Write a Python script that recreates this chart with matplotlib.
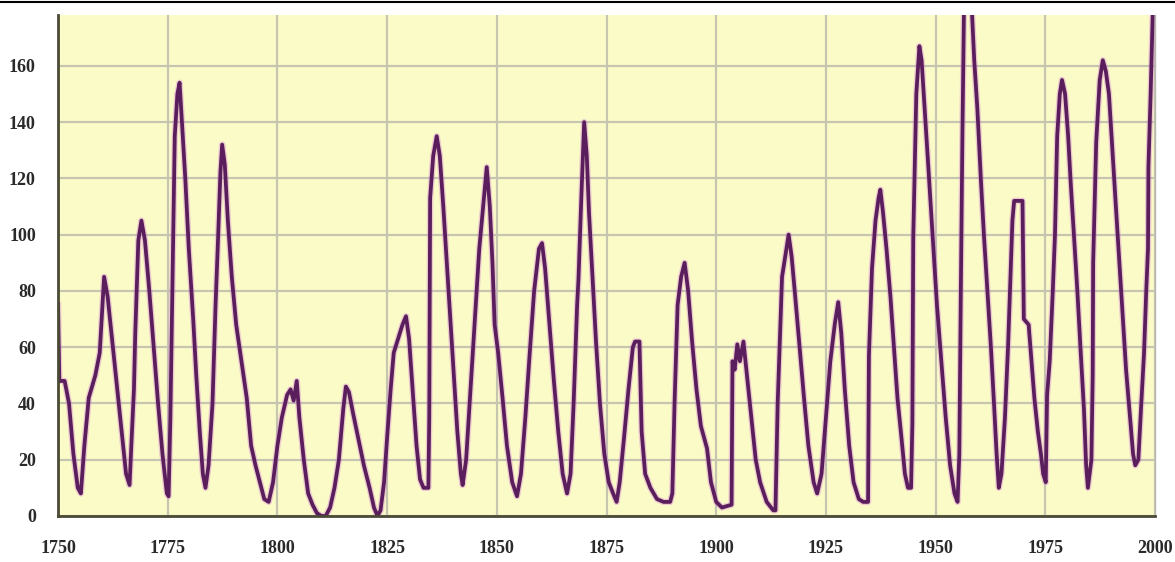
import matplotlib.pyplot as plt

# sunspot number (year, value)
years = [1750.0, 1750.3, 1751.5, 1752.5, 1753.5, 1754.5, 1755.2, 1756.0, 1757.0, 1758.5,
         1759.5, 1760.5, 1761.3, 1762.5, 1763.5, 1764.5, 1765.5, 1766.3, 1766.7, 1767.3,
         1767.6, 1768.3, 1769.0, 1769.8, 1770.8, 1771.8, 1772.8, 1773.8, 1774.8, 1775.2,
         1775.6, 1776.6, 1777.2, 1777.7, 1778.3, 1779.0, 1779.8, 1780.8, 1781.5, 1782.3,
         1783.0, 1783.6, 1784.3, 1785.2, 1785.9, 1786.5, 1787.0, 1787.4, 1788.0, 1788.7,
         1789.6, 1790.6, 1791.8, 1793.0, 1794.0, 1795.0, 1796.0, 1797.0, 1798.0, 1799.0,
         1800.0, 1801.0, 1802.2, 1803.0, 1803.7, 1804.4, 1805.0, 1806.0, 1807.0, 1808.0,
         1809.0, 1810.0, 1811.0, 1812.0, 1813.0, 1814.0, 1815.0, 1815.6, 1816.3, 1817.3,
         1818.5, 1819.7, 1821.0, 1822.0, 1822.8, 1823.5, 1824.3, 1825.0, 1825.8, 1826.5,
         1827.5, 1828.5, 1829.3, 1830.0, 1830.8, 1831.7, 1832.5, 1833.3, 1834.4, 1834.6,
         1834.8, 1835.5, 1836.3, 1837.0, 1837.8, 1838.6, 1839.4, 1840.2, 1841.0, 1841.8,
         1842.2, 1843.0, 1844.0, 1845.0, 1846.0, 1847.0, 1847.7, 1848.4, 1849.0, 1849.5,
         1850.3, 1851.3, 1852.3, 1853.5, 1854.6, 1855.5, 1856.5, 1857.5, 1858.5, 1859.6,
         1860.3, 1861.0, 1862.0, 1863.0, 1864.0, 1865.0, 1866.0, 1866.8, 1867.5, 1868.3,
         1868.6, 1869.3, 1869.9, 1870.5, 1871.0, 1871.8, 1872.6, 1873.5, 1874.5, 1875.5,
         1876.5, 1877.3, 1878.0, 1879.0, 1880.0, 1881.0, 1881.5, 1882.5, 1883.0, 1883.8,
         1885.0, 1886.5, 1888.0, 1889.5, 1890.0, 1890.5, 1891.2, 1892.0, 1892.8, 1893.6,
         1894.5, 1895.5, 1896.5, 1897.2, 1897.9, 1898.8, 1900.0, 1901.3, 1903.5, 1903.7,
         1904.2, 1904.8, 1905.4, 1906.2, 1907.0, 1908.0, 1909.0, 1910.0, 1911.5, 1913.0,
         1913.5, 1914.0, 1915.0, 1916.0, 1916.5, 1917.2, 1918.0, 1919.0, 1920.0, 1921.0,
         1922.2, 1923.0, 1924.0, 1925.0, 1926.0, 1927.0, 1927.8, 1928.5, 1929.3, 1930.3,
         1931.3, 1932.5, 1933.5, 1934.6, 1934.8, 1935.5, 1936.3, 1937.0, 1937.4, 1938.0,
         1938.8, 1939.7, 1940.5, 1941.3, 1942.2, 1943.0, 1943.7, 1944.4, 1944.7, 1944.9,
         1945.6, 1946.3, 1946.8, 1947.5, 1948.3, 1949.3, 1950.3, 1951.3, 1952.3, 1953.3,
         1954.3, 1955.0, 1955.4, 1955.7, 1956.1, 1956.5, 1957.3, 1958.1, 1958.8, 1959.5,
         1960.3, 1961.0, 1961.8, 1962.6, 1963.3, 1963.9, 1964.4, 1965.0, 1965.8, 1966.5,
         1967.0, 1967.5, 1967.9, 1969.8, 1970.1, 1971.2, 1971.7, 1972.5, 1973.3, 1974.0,
         1974.5, 1975.1, 1975.4, 1976.0, 1976.7, 1977.2, 1977.7, 1978.3, 1978.8, 1979.5,
         1980.2, 1980.8, 1981.5, 1982.3, 1983.0, 1983.8, 1984.3, 1984.7, 1985.5, 1985.8,
         1985.9, 1986.6, 1987.4, 1988.1, 1988.8, 1989.5, 1990.2, 1991.0, 1991.8, 1992.6,
         1993.4, 1994.3, 1995.0, 1995.5, 1996.2, 1996.8, 1997.5, 1998.0, 1998.4, 1998.5,
         1999.0, 1999.5]
sunspots = [75, 48, 48, 40, 22, 10, 8, 25, 42, 50,
            58, 85, 78, 60, 45, 30, 15, 11, 25, 45,
            65, 98, 105, 98, 80, 60, 40, 22, 8, 7,
            35, 135, 150, 154, 138, 120, 95, 70, 50, 30,
            15, 10, 18, 40, 75, 100, 122, 132, 125, 105,
            85, 68, 55, 42, 25, 18, 12, 6, 5, 12,
            25, 35, 43, 45, 41, 48, 35, 20, 8, 4,
            1, 0, 0, 3, 10, 20, 38, 46, 44, 36,
            27, 18, 10, 3, 0, 2, 12, 28, 45, 58,
            63, 68, 71, 63, 45, 25, 13, 10, 10, 35,
            113, 128, 135, 128, 110, 90, 70, 50, 30, 15,
            11, 20, 45, 70, 95, 112, 124, 110, 90, 68,
            58, 42, 25, 12, 7, 15, 35, 58, 80, 95,
            97, 88, 68, 48, 30, 15, 8, 15, 40, 75,
            84, 115, 140, 128, 108, 85, 62, 40, 22, 12,
            8, 5, 12, 28, 45, 60, 62, 62, 30, 15,
            10, 6, 5, 5, 8, 40, 75, 85, 90, 80,
            62, 45, 32, 28, 24, 12, 5, 3, 4, 55,
            52, 61, 55, 62, 50, 35, 20, 12, 5, 2,
            2, 40, 85, 95, 100, 92, 78, 60, 42, 25,
            12, 8, 15, 35, 55, 68, 76, 65, 45, 25,
            12, 6, 5, 5, 57, 88, 105, 113, 116, 108,
            95, 78, 60, 42, 28, 15, 10, 10, 33, 99,
            150, 167, 162, 145, 125, 100, 75, 55, 35, 18,
            8, 5, 22, 73, 135, 185, 195, 185, 162, 145,
            120, 100, 80, 60, 40, 22, 10, 15, 35, 60,
            82, 105, 112, 112, 70, 68, 58, 42, 30, 22,
            15, 12, 43, 55, 80, 100, 135, 150, 155, 150,
            135, 118, 100, 80, 60, 38, 18, 10, 20, 50,
            90, 133, 155, 162, 158, 150, 132, 112, 92, 72,
            52, 35, 22, 18, 20, 38, 58, 80, 95, 124,
            150, 180]

x_ticks = [1750, 1775, 1800, 1825, 1850, 1875, 1900, 1925, 1950, 1975, 2000]
y_ticks = [0, 20, 40, 60, 80, 100, 120, 140, 160]

fig = plt.figure(figsize=(11.75, 5.62), dpi=100)
fig.patch.set_facecolor('white')
# thin frame line across the top of the picture
fig.add_artist(plt.Line2D([0, 1], [0.996, 0.996], color='black', linewidth=1.5))

ax = fig.add_axes([0.0494, 0.0819, 0.9336, 0.891])
ax.set_facecolor('#fbfbc8')

ax.plot(years, sunspots, color='#d070d8', linewidth=4.6, alpha=0.35, solid_joinstyle='round')
ax.plot(years, sunspots, color='#5a1e5c', linewidth=2.7, solid_joinstyle='round')

ax.set_xlim(1750, 2000)
ax.set_ylim(0, 178)
ax.set_xticks(x_ticks)
ax.set_yticks(y_ticks)
ax.grid(True, color='#c6c6b0', linewidth=1.6)
ax.set_axisbelow(True)

for lab in ax.get_xticklabels() + ax.get_yticklabels():
    lab.set_family('Liberation Serif')
    lab.set_fontweight('bold')
    lab.set_fontsize(13)
    lab.set_color('#2a2a2a')
ax.tick_params(axis='both', length=0)
ax.tick_params(axis='x', pad=17)
ax.tick_params(axis='y', pad=16)

ax.spines['top'].set_visible(False)
ax.spines['left'].set_color('#4a4a35')
ax.spines['left'].set_linewidth(2)
ax.spines['bottom'].set_color('#4a4a35')
ax.spines['bottom'].set_linewidth(2)
ax.spines['right'].set_color('#b8b8b0')
ax.spines['right'].set_linewidth(1)

fig.savefig('out.png', dpi=100)
